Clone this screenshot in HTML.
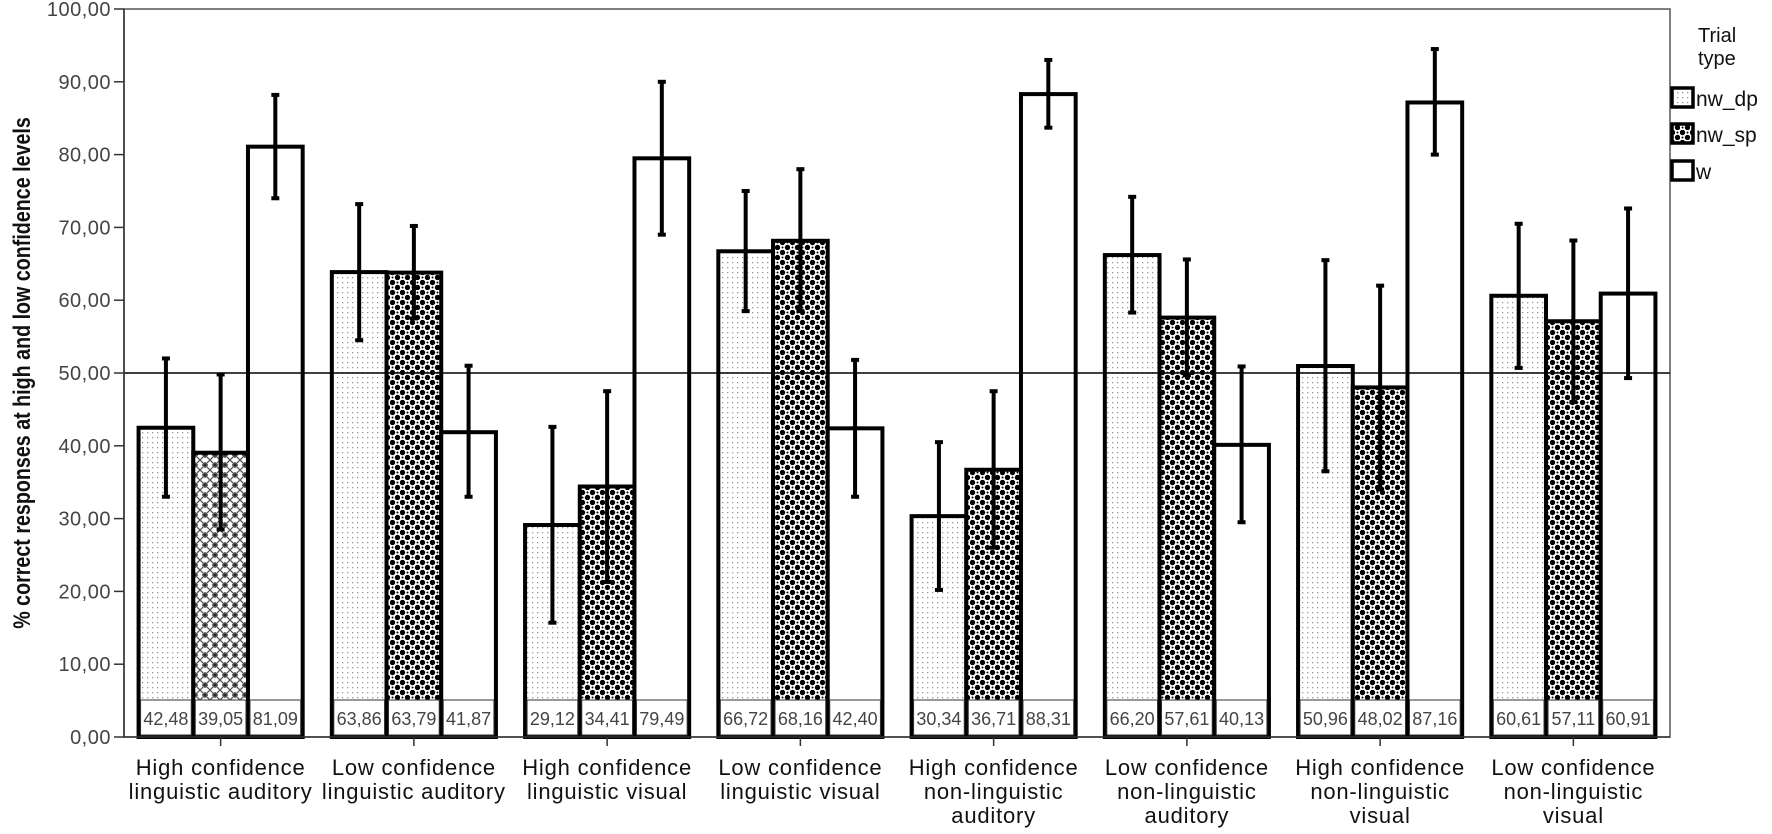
<!DOCTYPE html>
<html><head><meta charset="utf-8"><style>
html,body{margin:0;padding:0;background:#fff;}
svg{display:block;font-family:"Liberation Sans",Arial,sans-serif;}
</style></head><body>
<svg id="c" width="1772" height="834" viewBox="0 0 1772 834" xmlns="http://www.w3.org/2000/svg">
<defs>
<pattern id="dp" width="5" height="5" patternUnits="userSpaceOnUse"><rect width="5" height="5" fill="#fff"/><rect x="2" y="2" width="1.3" height="1.3" fill="#999"/></pattern>
<pattern id="sp" width="10" height="10" patternUnits="userSpaceOnUse"><rect width="10" height="10" fill="#fff"/><circle cx="2.5" cy="2.5" r="2.7" fill="#000"/><circle cx="7.5" cy="7.5" r="2.7" fill="#000"/><circle cx="7.5" cy="2.5" r="1" fill="#000"/><circle cx="2.5" cy="7.5" r="1" fill="#000"/></pattern>
<pattern id="sp1" width="10" height="10" patternUnits="userSpaceOnUse"><rect width="10" height="10" fill="#fff"/><path d="M0 0L10 10M10 0L0 10" stroke="#555" stroke-width="1.3"/><path d="M5 2V8M2 5H8" stroke="#222" stroke-width="1.2"/></pattern>
</defs>
</svg>
<script>
const s=document.getElementById('c');const NS='http://www.w3.org/2000/svg';
function el(t,a,txt){const e=document.createElementNS(NS,t);for(const k in a)e.setAttribute(k,a[k]);if(txt!==undefined)e.textContent=txt;s.appendChild(e);return e;}
const X0=124,X1=1670,Y0=737,YT=9,k=(Y0-YT)/100;const y=v=>Y0-v*k;
const data=[[[42.48,33,52],[39.05,28.5,49.8],[81.09,74,88.2]],
[[63.86,54.5,73.2],[63.79,57.5,70.2],[41.87,33,51]],
[[29.12,15.7,42.6],[34.41,21.3,47.5],[79.49,69,90]],
[[66.72,58.5,75],[68.16,58.5,78],[42.40,33,51.8]],
[[30.34,20.2,40.5],[36.71,26,47.5],[88.31,83.7,93]],
[[66.20,58.3,74.2],[57.61,49.7,65.6],[40.13,29.5,50.9]],
[[50.96,36.5,65.5],[48.02,34,62],[87.16,80,94.5]],
[[60.61,50.7,70.5],[57.11,46,68.2],[60.91,49.3,72.6]]];
const labels=[["High confidence","linguistic auditory"],["Low confidence","linguistic auditory"],["High confidence","linguistic visual"],["Low confidence","linguistic visual"],["High confidence","non-linguistic","auditory"],["Low confidence","non-linguistic","auditory"],["High confidence","non-linguistic","visual"],["Low confidence","non-linguistic","visual"]];
const gw=(X1-X0)/8,bw=54.7;
el('rect',{x:X0,y:YT,width:X1-X0,height:Y0-YT,fill:'#fff',stroke:'#555','stroke-width':1.5});
for(let g=0;g<8;g++){const c=X0+gw*(g+.5);
 for(let b=0;b<3;b++){const d=data[g][b];const x=c-bw*1.5+b*bw;
  const fill=b==0?'url(#dp)':b==1?(g==0?'url(#sp1)':'url(#sp)'):'#fff';
  el('rect',{x:x,y:y(d[0]),width:bw,height:Y0-y(d[0]),fill:fill,stroke:'#000','stroke-width':4});
 }
 for(let b=0;b<3;b++){const d=data[g][b];const x=c-bw*1.5+b*bw;
  el('rect',{x:x+2,y:700,width:bw-4,height:35,fill:'#fff',stroke:'#333','stroke-width':1});
  el('text',{x:x+bw/2,y:725,'text-anchor':'middle','font-size':18,fill:'#444'},d[0].toFixed(2).replace('.',','));
 }
 el('line',{x1:c,y1:Y0,x2:c,y2:Y0+9,stroke:'#333','stroke-width':1.5});
 labels[g].forEach((t,i)=>el('text',{x:c,y:775+i*24,'text-anchor':'middle','font-size':22,'letter-spacing':0.8,fill:'#111'},t));
}
el('line',{x1:X0,y1:y(50),x2:X1,y2:y(50),stroke:'#000','stroke-width':1.5});
for(let g=0;g<8;g++){const c=X0+gw*(g+.5);
 for(let b=0;b<3;b++){const d=data[g][b];const xc=c-bw*1.5+b*bw+bw/2;
  el('line',{x1:xc,y1:y(d[1]),x2:xc,y2:y(d[2]),stroke:'#000','stroke-width':4});
  el('line',{x1:xc-4,y1:y(d[1]),x2:xc+4,y2:y(d[1]),stroke:'#000','stroke-width':4});
  el('line',{x1:xc-4,y1:y(d[2]),x2:xc+4,y2:y(d[2]),stroke:'#000','stroke-width':4});
 }}
el('line',{x1:X0,y1:YT,x2:X0,y2:Y0,stroke:'#333','stroke-width':1.5});
el('line',{x1:X0,y1:Y0,x2:X1,y2:Y0,stroke:'#333','stroke-width':1.5});
for(let v=0;v<=100;v+=10){const yy=y(v);
 el('line',{x1:X0-10,y1:yy,x2:X0,y2:yy,stroke:'#333','stroke-width':1.5});
 el('text',{x:X0-13,y:yy+7,'text-anchor':'end','font-size':20,'letter-spacing':0.5,fill:'#444'},v.toFixed(2).replace('.',','));}
el('text',{x:0,y:0,transform:'translate(30,373) rotate(-90) scale(0.82,1)','text-anchor':'middle','font-size':24,'font-weight':'bold',fill:'#111'},'% correct responses at high and low confidence levels');
el('text',{x:1698,y:42,'font-size':20,fill:'#111'},'Trial');
el('text',{x:1698,y:65,'font-size':20,fill:'#111'},'type');
[['url(#dp)','nw_dp',88],['url(#sp)','nw_sp',124],['#fff','w',161]].forEach(a=>{
 el('rect',{x:1672,y:a[2],width:21,height:19,fill:a[0],stroke:'#000','stroke-width':3.5});
 el('text',{x:1696,y:a[2]+18,'font-size':21,fill:'#111'},a[1]);});
</script>
</body></html>
